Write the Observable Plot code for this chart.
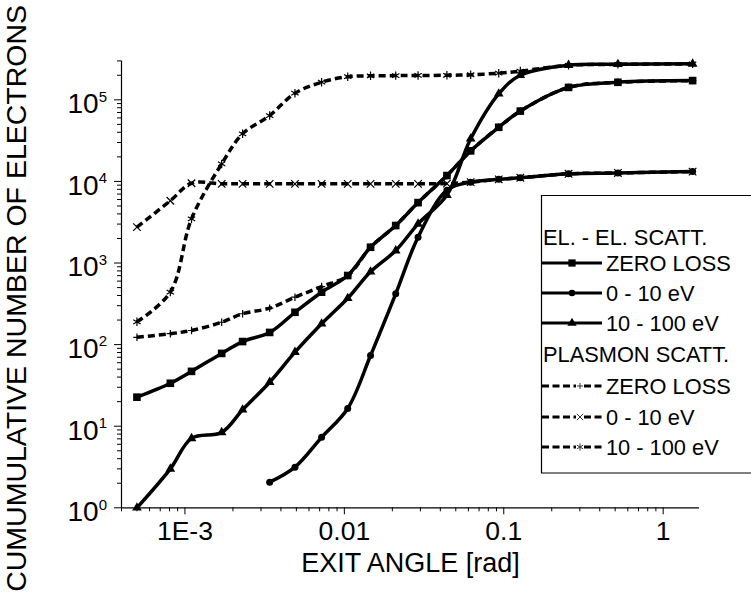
<!DOCTYPE html>
<html><head><meta charset="utf-8">
<script src="https://cdn.jsdelivr.net/npm/d3@7"></script>
<script src="https://cdn.jsdelivr.net/npm/@observablehq/plot@0.6"></script>
<style>
html,body{margin:0;padding:0;background:#fff;overflow:hidden;}
#chart{width:751px;height:597px;}
</style>
</head><body><div id="chart"></div>
<script>
// ---------- data ----------
const angles = [5.0e-4, 8.1e-4, 1.1e-3, 1.7e-3, 2.3e-3, 3.4e-3, 4.9e-3, 7.2e-3, 0.0105, 0.0146, 0.021, 0.029, 0.044, 0.062, 0.093, 0.127, 0.255, 0.52, 1.53];
const elZeroLoss = [22.7, 33.6, 47, 78, 109, 141, 249, 439, 703, 1560, 2880, 5500, 11800, 23700, 46100, 72800, 142000, 164000, 172000];
const elLowLoss  = [null, null, null, null, null, 2.06, 3.15, 7.3, 16.5, 73.5, 419, 2070, 7800, 9800, 10600, 11100, 12400, 12700, 13200];
const elHighLoss = [1.0, 3.0, 7.1, 8.4, 15.9, 34.6, 80.7, 180, 370, 780, 1420, 3020, 6800, 33300, 118500, 200000, 266000, 273000, 276000];
const plZeroLoss = [123, 136, 149, 188, 239, 280, 381, 515, 700, 1560, 2880, 5500, 11800, 23700, 46100, 72800, 142000, 164000, 172000];
const plLowLoss  = [2750, 5800, 9500, 9350, 9350, 9350, 9350, 9350, 9350, 9350, 9350, 9350, 9400, 9800, 10600, 11100, 12400, 12700, 13200];
const plHighLoss = [190, 440, 3480, 16400, 38300, 64200, 120500, 164500, 192000, 197000, 198000, 199000, 200000, 203000, 212000, 225000, 265000, 272000, 276000];

const xMajorTicks = [1e-3, 1e-2, 1e-1, 1];
const xTickLabels = ["1E-3", "0.01", "0.1", "1"];
const xMinorTicks = [4e-4,5e-4,6e-4,7e-4,8e-4,9e-4,2e-3,3e-3,4e-3,5e-3,6e-3,7e-3,8e-3,9e-3,0.02,0.03,0.04,0.05,0.06,0.07,0.08,0.09,0.2,0.3,0.4,0.5,0.6,0.7,0.8,0.9];
const yMajorTicks = [1, 10, 100, 1000, 10000, 100000];
const yTickExponents = ["0", "1", "2", "3", "4", "5"];
const yMinorTicks = [2,3,4,5,6,7,8,9,20,30,40,50,60,70,80,90,200,300,400,500,600,700,800,900,2000,3000,4000,5000,6000,7000,8000,9000,20000,30000,40000,50000,60000,70000,80000,90000,200000,300000];

const xTitle = "EXIT ANGLE [rad]";
const yTitle = "CUMUMULATIVE NUMBER OF ELECTRONS";
const legendHeaders = ["EL. - EL. SCATT.", "PLASMON SCATT."];
const legendLabels = ["ZERO LOSS", "0 - 10 eV", "10 - 100 eV"];

// ---------- styles ----------
const series = [
  {key: "plZero", values: plZeroLoss, dashed: true,  symbol: "plus",     r: 2.5, filled: false},
  {key: "plLow",  values: plLowLoss,  dashed: true,  symbol: "times",    r: 3.5, filled: false},
  {key: "plHigh", values: plHighLoss, dashed: true,  symbol: "asterisk", r: 4,   filled: false},
  {key: "elZero", values: elZeroLoss, dashed: false, symbol: "square",   r: 4.3, filled: true},
  {key: "elLow",  values: elLowLoss,  dashed: false, symbol: "circle",   r: 3.5, filled: true},
  {key: "elHigh", values: elHighLoss, dashed: false, symbol: "triangle", r: 3.6, filled: true}
];
const DASH = "7,4";
const FONT = "'Liberation Sans', Arial, Helvetica, sans-serif";

const tables = series.map(s => angles.map((a, i) => ({angle: a, count: s.values[i]})).filter(d => d.count != null));

const supChars = {"0":"\u2070","1":"\u00B9","2":"\u00B2","3":"\u00B3","4":"\u2074","5":"\u2075"};

const marks = [];
series.forEach((s, k) => {
  marks.push(Plot.line(tables[k], {x: "angle", y: "count", curve: "catmull-rom", stroke: "black",
    strokeWidth: 3.5, strokeDasharray: s.dashed ? DASH : null, strokeLinecap: "butt"}));
});
series.forEach((s, k) => {
  marks.push(Plot.dot(tables[k], {x: "angle", y: "count", symbol: s.symbol, r: s.r,
    fill: s.filled ? "black" : "none", stroke: s.filled ? "none" : "black", strokeWidth: s.filled ? 0 : 1.2}));
});

// axes
marks.push(Plot.ruleY([1], {stroke: "black", strokeWidth: 1.2}));
marks.push(Plot.ruleX([4e-4], {stroke: "black", strokeWidth: 1.2}));
marks.push(Plot.axisX(xMinorTicks, {tickSize: 4, tickFormat: () => "", label: null, strokeWidth: 1}));
marks.push(Plot.axisX(xMajorTicks, {tickSize: 7, tickPadding: 6, label: null, fontSize: 26.5, strokeWidth: 1,
  tickFormat: d => xTickLabels[xMajorTicks.indexOf(d)]}));
marks.push(Plot.axisY(yMinorTicks, {tickSize: 4, tickFormat: () => "", label: null, strokeWidth: 1}));
marks.push(Plot.axisY(yMajorTicks, {tickSize: 7, tickPadding: 7.5, label: null, fontSize: 28, strokeWidth: 1,
  tickFormat: d => "10" + supChars[yTickExponents[yMajorTicks.indexOf(d)]]}));

// titles
marks.push(Plot.text([xTitle], {frameAnchor: "bottom", lineAnchor: "middle", textAnchor: "middle", dy: 55.5, fontSize: 27, text: d => d, fill: "black"}));
marks.push(Plot.text([yTitle], {frameAnchor: "left", lineAnchor: "middle", textAnchor: "middle", rotate: -90, dx: -104.5, dy: 14, fontSize: 28.5, text: d => d, fill: "black"}));

const svg = Plot.plot({
  width: 751, height: 597,
  marginLeft: 121, marginRight: 52, marginTop: 60.4, marginBottom: 89.7,
  style: {fontFamily: FONT, background: "white", color: "black", overflow: "hidden"},
  x: {type: "log", domain: [4e-4, 1.69], axis: null, label: null},
  y: {type: "log", domain: [1, 3e5], axis: null, label: null},
  marks
});
document.getElementById("chart").appendChild(svg);

// superscript exponents on the y tick labels
const ns = "http://www.w3.org/2000/svg";
const invSup = {}; Object.keys(supChars).forEach(k => invSup[supChars[k]] = k);
svg.querySelectorAll('[aria-label="y-axis tick label"] text').forEach(t => {
  const s = t.textContent;
  if (!s) return;
  const exp = invSup[s.slice(2)];
  if (exp == null) return;
  t.textContent = "10";
  t.setAttribute("dy", "0.16em");
  const ts = document.createElementNS(ns, "tspan");
  ts.setAttribute("dy", "-11.7");
  ts.setAttribute("font-size", "15");
  ts.textContent = exp;
  t.appendChild(ts);
});

// ---------- legend ----------
const g = d3.select(svg).append("g").attr("font-family", FONT).attr("font-size", 21.8)
  .attr("fill", "black").attr("text-anchor", "start");
g.append("rect").attr("x", 541.5).attr("y", 195.5).attr("width", 260).attr("height", 277.5)
  .attr("fill", "white").attr("stroke", "none");
g.append("path").attr("d", "M800,195.5H541.5V473H800").attr("fill", "none").attr("stroke", "black").attr("stroke-width", 1.2);
const headerY = [237, 354];
const rowY = [[263, 293, 323], [386, 417, 447]];
const symMap = {square: d3.symbolSquare, circle: d3.symbolCircle, triangle: d3.symbolTriangle,
  plus: d3.symbolPlus, times: d3.symbolTimes, asterisk: d3.symbolAsterisk};
legendHeaders.forEach((h, gi) => {
  g.append("text").attr("x", 543).attr("y", headerY[gi] + 8).attr("text-anchor", "start").text(h);
  legendLabels.forEach((lab, li) => {
    const s = series[gi === 0 ? 3 + li : li];
    const y = rowY[gi][li];
    g.append("line").attr("x1", 542).attr("x2", 602).attr("y1", y).attr("y2", y)
      .attr("stroke", "black").attr("stroke-width", 3)
      .attr("stroke-dasharray", s.dashed ? "7,3.5" : null);
    const mx = s.dashed ? 580 : 572;
    const rr = s.filled ? s.r * 0.95 : s.r * 0.85;
    if (s.dashed) {
      g.append("rect").attr("x", mx - 4).attr("y", y - 4).attr("width", 8).attr("height", 8).attr("fill", "white");
    }
    g.append("path").attr("transform", `translate(${mx},${y})`)
      .attr("d", d3.symbol(symMap[s.symbol], Math.PI * rr * rr)())
      .attr("fill", s.filled ? "black" : "none").attr("stroke", s.filled ? "none" : "#333").attr("stroke-width", 1);
    g.append("text").attr("x", 606).attr("y", y + 8).attr("text-anchor", "start").text(lab);
  });
});
</script></body></html>
